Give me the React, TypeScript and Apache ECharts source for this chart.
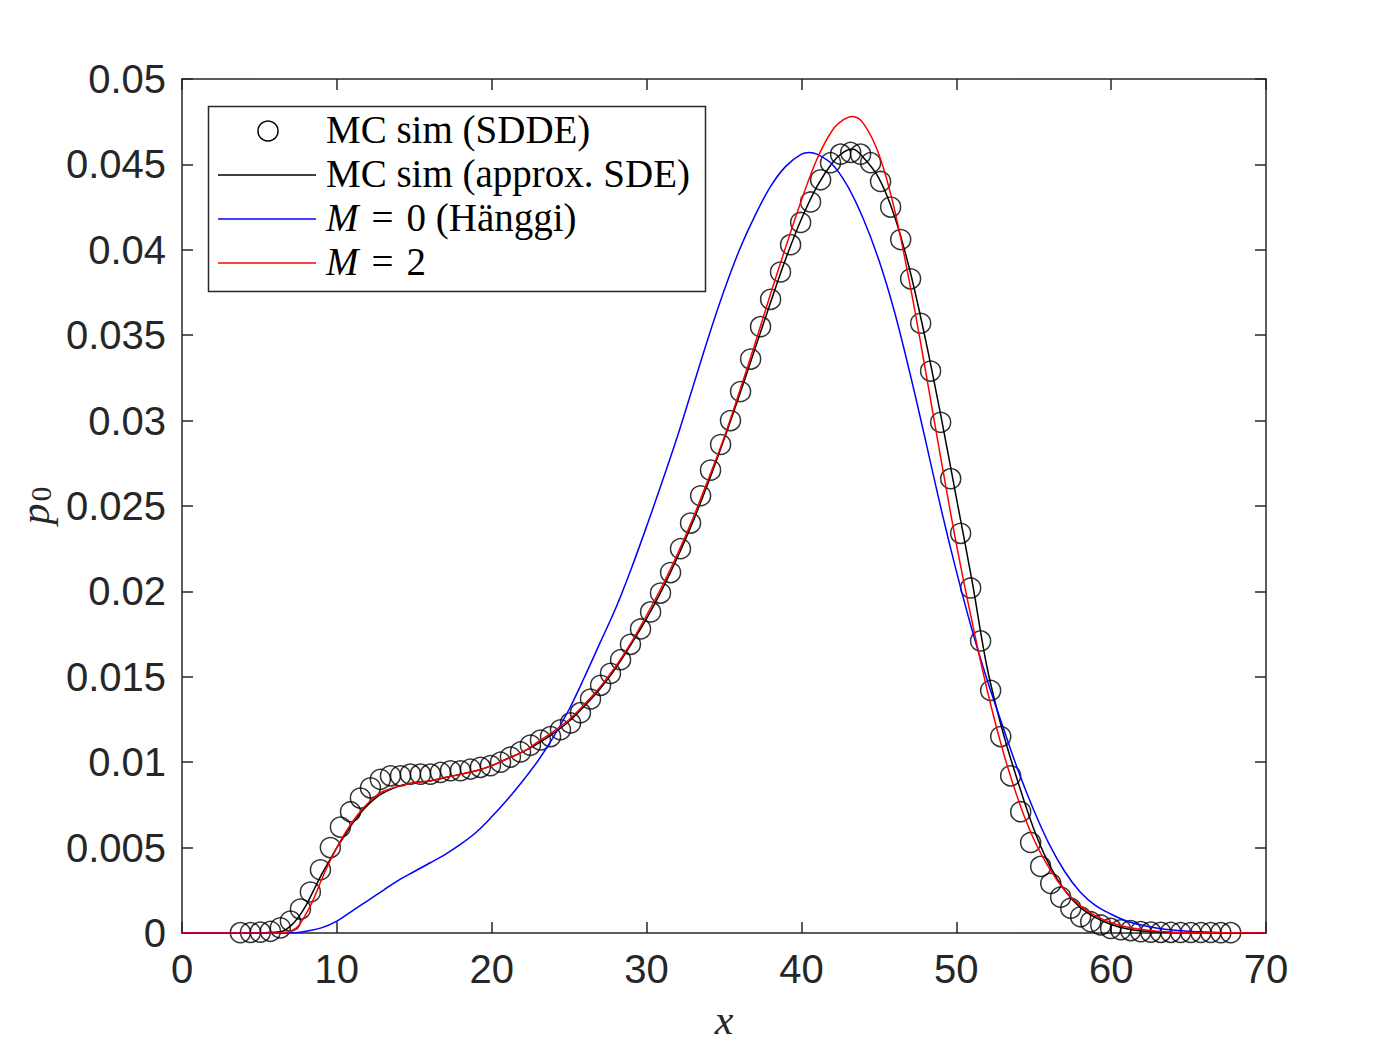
import React, { useEffect, useRef } from "react";
import * as echarts from "echarts";

// Monte Carlo (SDDE) histogram points
const mcX = [3.77, 4.42, 5.06, 5.71, 6.35, 7.0, 7.65, 8.29, 8.94, 9.58, 10.23, 10.88, 11.52, 12.17, 12.81, 13.46, 14.11, 14.75, 15.4, 16.04, 16.69, 17.34, 17.98, 18.63, 19.27, 19.92, 20.57, 21.21, 21.86, 22.5, 23.15, 23.8, 24.44, 25.09, 25.73, 26.38, 27.03, 27.67, 28.32, 28.96, 29.61, 30.26, 30.9, 31.55, 32.19, 32.84, 33.49, 34.13, 34.78, 35.42, 36.07, 36.72, 37.36, 38.01, 38.65, 39.3, 39.95, 40.59, 41.24, 41.88, 42.53, 43.18, 43.82, 44.47, 45.11, 45.76, 46.41, 47.05, 47.7, 48.34, 48.99, 49.64, 50.28, 50.93, 51.57, 52.22, 52.87, 53.51, 54.16, 54.8, 55.45, 56.1, 56.74, 57.39, 58.03, 58.68, 59.33, 59.97, 60.62, 61.26, 61.91, 62.56, 63.2, 63.85, 64.49, 65.14, 65.79, 66.43, 67.08, 67.72];
const mcY = [
  0.00002, 0.00003, 0.00005, 0.0001, 0.0003, 0.0007, 0.0014, 0.0024, 0.0037, 0.005,
  0.0062, 0.0071, 0.0079, 0.0085, 0.009, 0.0092, 0.0092, 0.0093, 0.0093, 0.0093,
  0.0094, 0.0095, 0.0095, 0.0096, 0.0097, 0.0098, 0.01, 0.0103, 0.0106, 0.011,
  0.0113, 0.0115, 0.0119, 0.0123, 0.0129, 0.0137, 0.0145, 0.0152, 0.016, 0.0169,
  0.0178, 0.0188, 0.0199, 0.0211, 0.0225, 0.024, 0.0256, 0.0271, 0.0286, 0.03,
  0.0317, 0.0336, 0.0355, 0.0371, 0.0387, 0.0403, 0.0416, 0.0428, 0.0441, 0.0451,
  0.0456, 0.0457, 0.0456, 0.0451, 0.044, 0.0425, 0.0406, 0.0383, 0.0357, 0.0329,
  0.0299, 0.0266, 0.0234, 0.0202, 0.0171, 0.0142, 0.0115, 0.0092, 0.0071, 0.0053,
  0.0039, 0.0029, 0.0021, 0.00145, 0.00095, 0.00066, 0.00047, 0.00027, 0.00019, 0.00014,
  0.00008, 0.00005, 0.00004, 0.00004, 0.00003, 0.00003, 0.00003, 0.00003, 0.00002, 0.00002,
];

// MC sim (approx. SDE)
const sdeX = [0, 5, 6, 6.5, 7, 7.5, 8, 8.5, 9, 9.5, 10, 10.5, 11, 11.5, 12, 12.5, 13, 14, 15, 16, 17, 18, 19, 20, 21, 22, 23, 24, 25, 26, 27, 28, 29, 30, 31, 32, 33, 34, 35, 36, 37, 38, 39, 40, 41, 42, 42.7, 43.3, 44, 45, 46, 47, 48, 49, 50, 51, 52, 53, 54, 55, 56, 57, 58, 59, 60, 61, 62, 63, 64, 66, 70];
const sdeY = [0, 0, 0.00005, 0.0001, 0.0004, 0.0009, 0.0016, 0.0025, 0.0034, 0.0042, 0.005, 0.0057, 0.0064, 0.007, 0.0075, 0.0079, 0.0082, 0.0086, 0.0088, 0.0089, 0.0091, 0.0093, 0.0095, 0.0098, 0.0102, 0.0106, 0.0111, 0.0117, 0.0124, 0.0133, 0.0143, 0.0155, 0.0169, 0.0184, 0.0201, 0.022, 0.0241, 0.0264, 0.0289, 0.0315, 0.0342, 0.0369, 0.0395, 0.0418, 0.0437, 0.0451, 0.0457, 0.0459, 0.0454, 0.0442, 0.042, 0.0388, 0.0348, 0.0303, 0.0255, 0.0207, 0.0155, 0.0118, 0.0088, 0.0061, 0.004, 0.0025, 0.0015, 0.0009, 0.0005, 0.00025, 0.00012, 0.00006, 0.00003, 0.00001, 0];

// M = 0 (Hänggi)
const hanggiX = [0, 7, 7.5, 8, 9, 10, 11, 12, 13, 14, 15, 16, 17, 18, 19, 20, 21, 22, 23, 24, 25, 26, 27, 28, 29, 30, 31, 32, 33, 34, 35, 36, 37, 38, 39, 40, 40.5, 41, 42, 43, 44, 45, 46, 47, 48, 49, 50, 51, 52, 53, 54, 55, 56, 57, 58, 59, 60, 61, 62, 63, 64, 65, 66, 67, 70];
const hanggiY = [0, 0, 0.00003, 0.0001, 0.0003, 0.0007, 0.0013, 0.0019, 0.0025, 0.0031, 0.0036, 0.0041, 0.0046, 0.0052, 0.0059, 0.0068, 0.0078, 0.0089, 0.0101, 0.0115, 0.0131, 0.015, 0.017, 0.019, 0.0213, 0.0238, 0.0264, 0.0291, 0.032, 0.0349, 0.0376, 0.04, 0.042, 0.0437, 0.0449, 0.0456, 0.0457, 0.0456, 0.045, 0.0437, 0.0418, 0.0394, 0.0364, 0.0328, 0.0289, 0.0249, 0.0212, 0.0178, 0.0148, 0.0121, 0.0095, 0.0072, 0.0052, 0.0036, 0.0024, 0.0016, 0.0011, 0.0007, 0.00045, 0.00028, 0.00017, 0.0001, 0.00006, 0.00003, 0];

// M = 2
const m2X = [0, 6, 6.5, 7, 7.5, 8, 8.5, 9, 9.5, 10, 10.5, 11, 11.5, 12, 12.5, 13, 14, 15, 16, 17, 18, 19, 20, 21, 22, 23, 24, 25, 26, 27, 28, 29, 30, 31, 32, 33, 34, 35, 36, 37, 38, 39, 40, 41, 42, 42.7, 43.3, 44, 45, 46, 47, 48, 49, 50, 51, 52, 53, 54, 55, 56, 57, 58, 59, 60, 61, 62, 63, 64, 66, 70];
const m2Y = [0, 0, 0.00002, 0.0001, 0.0004, 0.0011, 0.002, 0.0031, 0.0041, 0.005, 0.0058, 0.0065, 0.0071, 0.0076, 0.008, 0.0083, 0.0086, 0.0088, 0.0089, 0.0091, 0.0093, 0.0095, 0.0098, 0.0102, 0.0106, 0.0112, 0.0118, 0.0125, 0.0134, 0.0144, 0.0156, 0.017, 0.0186, 0.0203, 0.0222, 0.0243, 0.0266, 0.029, 0.0317, 0.0345, 0.0374, 0.0402, 0.0429, 0.0453, 0.047, 0.0476, 0.0478, 0.0474, 0.0456, 0.0424, 0.038, 0.033, 0.0278, 0.0228, 0.0183, 0.0142, 0.0107, 0.0078, 0.0055, 0.0038, 0.0025, 0.0016, 0.001, 0.0006, 0.00035, 0.0002, 0.0001, 0.00005, 0.00002, 0];

const legendLabels = [
  "MC sim (SDDE)",
  "MC sim (approx. SDE)",
  "{i|M}\u2004=\u20040 (Hänggi)",
  "{i|M}\u2004=\u20042",
];

const AX = "#262626";
const TICK_FONT = "'Liberation Sans', Arial, Helvetica, sans-serif";
const SERIF = "'Liberation Serif', 'Times New Roman', serif";

function pairs(xs: number[], ys: number[]) {
  return xs.map((x, i) => [x, ys[i]]);
}

function axisCommon(show: boolean, margin: number) {
  return {
    axisLine: { show: true, onZero: false, lineStyle: { color: AX, width: 1.5 } },
    axisTick: { show: true, inside: true, length: 11, lineStyle: { color: AX, width: 1.5 } },
    splitLine: { show: false },
    axisLabel: show
      ? { show: true, fontSize: 40, fontFamily: TICK_FONT, color: AX, margin }
      : { show: false },
  };
}

export default function App() {
  const ref = useRef<HTMLDivElement>(null);
  useEffect(() => {
    document.body.style.margin = "0";
    const chart = echarts.init(ref.current!, null, { renderer: "svg" });
    const lineRows = [131, 175, 219, 263];
    const lineSeries = (name: string, data: number[][], color: string, z: number) => ({
      name,
      type: "line",
      data,
      showSymbol: false,
      symbol: "none",
      smooth: 0.35,
      lineStyle: { color, width: 1.5 },
      z,
      silent: true,
    });
    const option: any = {
      animation: false,
      backgroundColor: "#ffffff",
      grid: { left: 182, top: 79, right: 134, bottom: 117, containLabel: false },
      xAxis: [
        { type: "value", min: 0, max: 70, interval: 10, position: "bottom", ...axisCommon(true, 16) },
        { type: "value", min: 0, max: 70, interval: 10, position: "top", ...axisCommon(false, 0) },
      ],
      yAxis: [
        { type: "value", min: 0, max: 0.05, interval: 0.005, position: "left", ...axisCommon(true, 16) },
        { type: "value", min: 0, max: 0.05, interval: 0.005, position: "right", ...axisCommon(false, 0) },
      ],
      series: [
        {
          name: "MC sim (SDDE)",
          type: "scatter",
          data: pairs(mcX, mcY),
          symbol: "circle",
          symbolSize: 20,
          itemStyle: { color: "rgba(0,0,0,0)", borderColor: "#000", borderWidth: 1.5 },
          z: 2,
          silent: true,
        },
        lineSeries("MC sim (approx. SDE)", pairs(sdeX, sdeY), "#000000", 3),
        lineSeries("M = 0 (Hänggi)", pairs(hanggiX, hanggiY), "#0000ff", 4),
        lineSeries("M = 2", pairs(m2X, m2Y), "#ff0000", 5),
      ],
      graphic: [
        {
          type: "rect",
          shape: { x: 208.5, y: 106.5, width: 497, height: 185 },
          style: { fill: "#fff", stroke: AX, lineWidth: 1.5 },
          z: 100,
        },
        {
          type: "circle",
          shape: { cx: 268, cy: lineRows[0], r: 10 },
          style: { fill: "none", stroke: "#000", lineWidth: 1.5 },
          z: 101,
        },
        { type: "line", shape: { x1: 218, y1: lineRows[1], x2: 316, y2: lineRows[1] }, style: { stroke: "#000", lineWidth: 1.5 }, z: 101 },
        { type: "line", shape: { x1: 218, y1: lineRows[2], x2: 316, y2: lineRows[2] }, style: { stroke: "#0000ff", lineWidth: 1.5 }, z: 101 },
        { type: "line", shape: { x1: 218, y1: lineRows[3], x2: 316, y2: lineRows[3] }, style: { stroke: "#ff0000", lineWidth: 1.5 }, z: 101 },
        ...legendLabels.map((t, i) => ({
          type: "text",
          x: 326,
          y: lineRows[i] - 2,
          style: {
            text: t,
            fontSize: 39,
            fontFamily: SERIF,
            fill: "#000",
            align: "left",
            verticalAlign: "middle",
            rich: { i: { fontSize: 39, fontFamily: SERIF, fontStyle: "italic", fill: "#000" } },
          },
          z: 101,
        })),
        {
          type: "text",
          x: 724,
          y: 1020,
          style: { text: "x", fontSize: 42, fontFamily: SERIF, fontStyle: "italic", fill: AX, align: "center", verticalAlign: "middle" },
        },
        {
          type: "text",
          x: 35,
          y: 514,
          rotation: Math.PI / 2,
          style: { text: "p", fontSize: 42, fontFamily: SERIF, fontStyle: "italic", fill: AX, align: "center", verticalAlign: "middle" },
        },
        {
          type: "text",
          x: 41,
          y: 494,
          rotation: Math.PI / 2,
          style: { text: "0", fontSize: 29, fontFamily: SERIF, fill: AX, align: "center", verticalAlign: "middle" },
        },
      ],
    };
    chart.setOption(option);
    return () => chart.dispose();
  }, []);
  return <div ref={ref} style={{ width: 1400, height: 1050 }} />;
}
